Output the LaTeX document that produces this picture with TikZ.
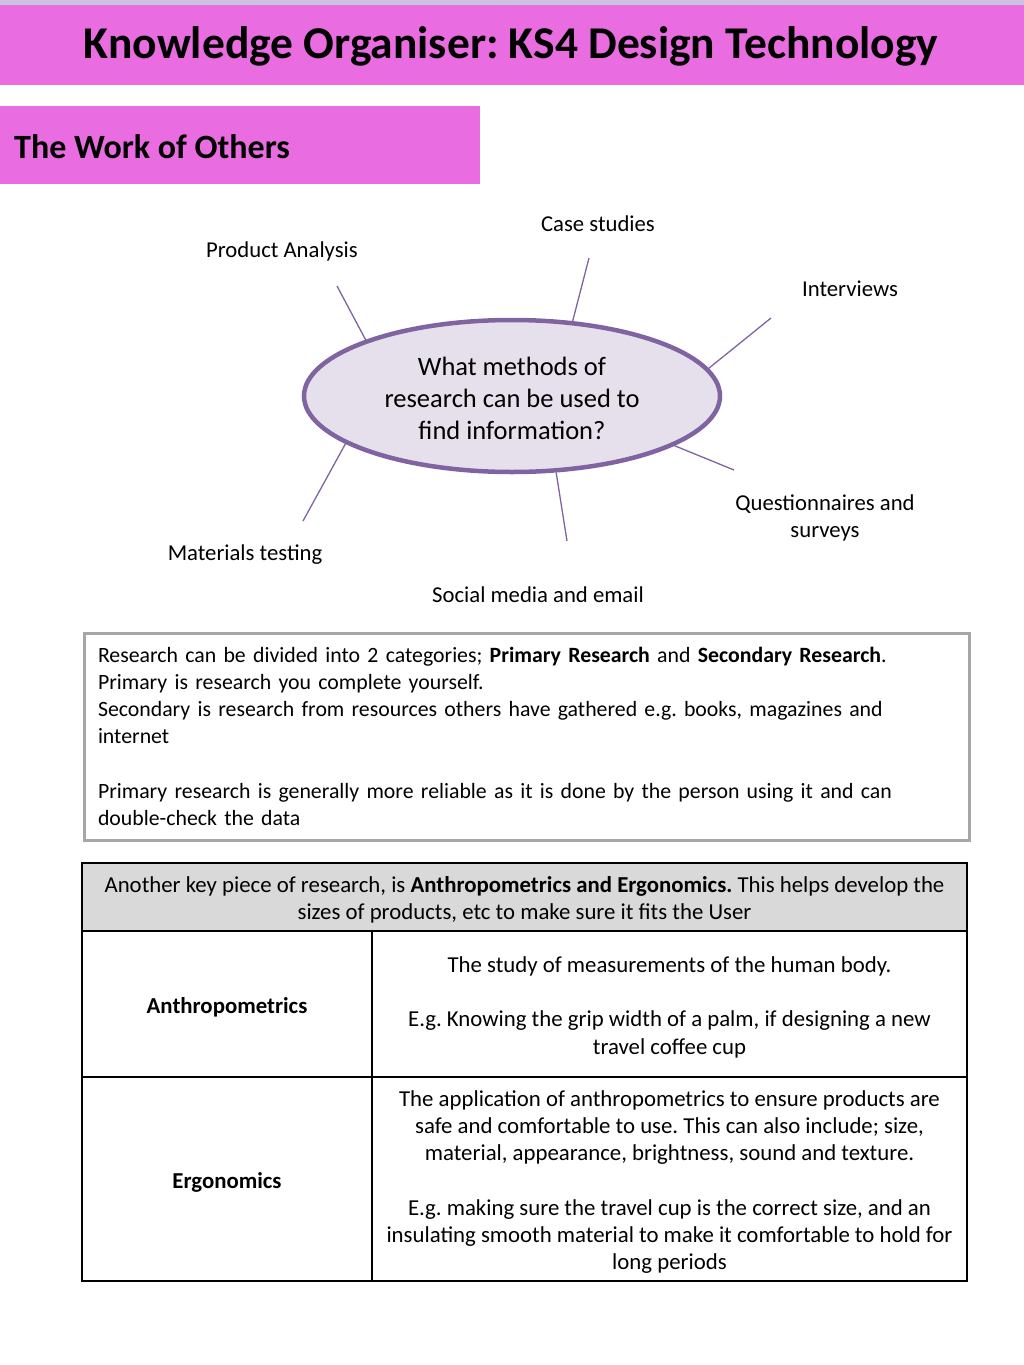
\documentclass[tikz,border=0pt]{standalone}
\usepackage{fontspec}
\setmainfont{Carlito}
\usetikzlibrary{shapes.geometric}
\definecolor{pinkhdr}{HTML}{E96CE1}
\definecolor{lavstrip}{HTML}{CBC4E0}
\definecolor{ellfill}{HTML}{E5E0EC}
\definecolor{ellline}{HTML}{8064A2}
\definecolor{boxgray}{HTML}{A6A6A6}
\definecolor{hdrgray}{HTML}{D9D9D9}
\begin{document}
\frenchspacing
\begin{tikzpicture}[x=1pt,y=-1pt,
  lbl/.style={font=\fontsize{22.7}{27}\selectfont, align=center, inner sep=0, outer sep=0},
  spoke/.style={draw=ellline, line width=1.3pt},
  bodytext/.style={font=\fontsize{21.8}{27.3}\selectfont, inner sep=0, outer sep=0},
  cell/.style={draw=black, line width=2pt, anchor=north west, inner sep=0, outer sep=0},
  celltext/.style={font=\fontsize{22.8}{27.3}\selectfont, align=center, inner sep=0, outer sep=0, yshift=-3pt}
]
\useasboundingbox (0,0) rectangle (1024,1365);
\fill[white] (0,0) rectangle (1024,1365);
% header
\fill[lavstrip] (0,0) rectangle (1024,6);
\node[fill=pinkhdr, minimum width=1024pt, minimum height=80pt, anchor=north west, inner sep=0, outer sep=0] (hdr) at (0,5) {};
\node[font=\bfseries\fontsize{45.5}{50}\selectfont, anchor=base, inner sep=0] (title) at (511,58) {Knowledge Organiser: KS4 Design Technology};
% sub header
\node[fill=pinkhdr, minimum width=480pt, minimum height=78pt, anchor=north west, inner sep=0, outer sep=0] (subhdr) at (0,106) {};
\node[font=\bfseries\fontsize{34}{38}\selectfont, anchor=base west, inner sep=0] (subtitle) at (14,158) {The Work of Others};
% ellipse
\node[ellipse, draw=ellline, fill=ellfill, line width=4.5pt, minimum width=416pt, minimum height=152pt, inner sep=0,
  font=\fontsize{26.5}{32}\selectfont, align=center] (ell) at (512,396) {\rule{0pt}{24pt}What methods of\\research can be used to\\find information?};
% labels
\node[lbl] (cs) at (598,224) {Case studies};
\node[lbl] (pa) at (282,251) {Product Analysis};
\node[lbl] (iv) at (850,289) {Interviews};
\node[lbl] (qs) at (825,518) {Questionnaires and\\surveys};
\node[lbl] (mt) at (245,555) {Materials testing};
\node[lbl] (sm) at (538,595) {Social media and email};
% spoke ends
\coordinate (pa-e) at (337,286);
\coordinate (cs-e) at (589,258);
\coordinate (iv-e) at (771,318);
\coordinate (qs-e) at (734,470);
\coordinate (sm-e) at (567,541);
\coordinate (mt-e) at (303,521);
\draw[spoke] (ell.159) -- (pa-e);
\draw[spoke] (ell.51) -- (cs-e);
\draw[spoke] (ell.8) -- (iv-e);
\draw[spoke] (ell.343) -- (qs-e);
\draw[spoke] (ell.300) -- (sm-e);
\draw[spoke] (ell.196) -- (mt-e);
% box 1
\node[draw=boxgray, line width=3pt, minimum width=885pt, minimum height=207pt, anchor=north west, inner sep=0, outer sep=0] (box1) at (84,633) {};
\node[bodytext, anchor=base west, text width=860pt, align=left] (box1txt) at (98,662) {Research can be divided into 2 categories; \textbf{Primary Research} and \textbf{Secondary Research}.\\
Primary is research you complete yourself.\\
Secondary is research from resources others have gathered e.g. books, magazines and\\
internet\\[27.3pt]
Primary research is generally more reliable as it is done by the person using it and can\\
double-check the data};
% table
\node[cell, fill=hdrgray, minimum width=885pt, minimum height=68pt] (th) at (82,863) {};
\node[cell, minimum width=290pt, minimum height=146pt] (c11) at (82,931) {};
\node[cell, minimum width=595pt, minimum height=146pt] (c12) at (372,931) {};
\node[cell, minimum width=290pt, minimum height=204pt] (c21) at (82,1077) {};
\node[cell, minimum width=595pt, minimum height=204pt] (c22) at (372,1077) {};
\node[celltext] (tht) at (th.center) {Another key piece of research, is \textbf{Anthropometrics and Ergonomics.} This helps develop the\\sizes of products, etc to make sure it fits the User};
\node[celltext] (c11t) at (c11.center) {\textbf{Anthropometrics}};
\node[celltext] (c12t) at (c12.center) {The study of measurements of the human body.\\[27.3pt]E.g. Knowing the grip width of a palm, if designing a new\\travel coffee cup};
\node[celltext] (c21t) at (c21.center) {\textbf{Ergonomics}};
\node[celltext] (c22t) at (c22.center) {The application of anthropometrics to ensure products are\\safe and comfortable to use. This can also include; size,\\material, appearance, brightness, sound and texture.\\[27.3pt]E.g. making sure the travel cup is the correct size, and an\\insulating smooth material to make it comfortable to hold for\\long periods};
\end{tikzpicture}
\end{document}
